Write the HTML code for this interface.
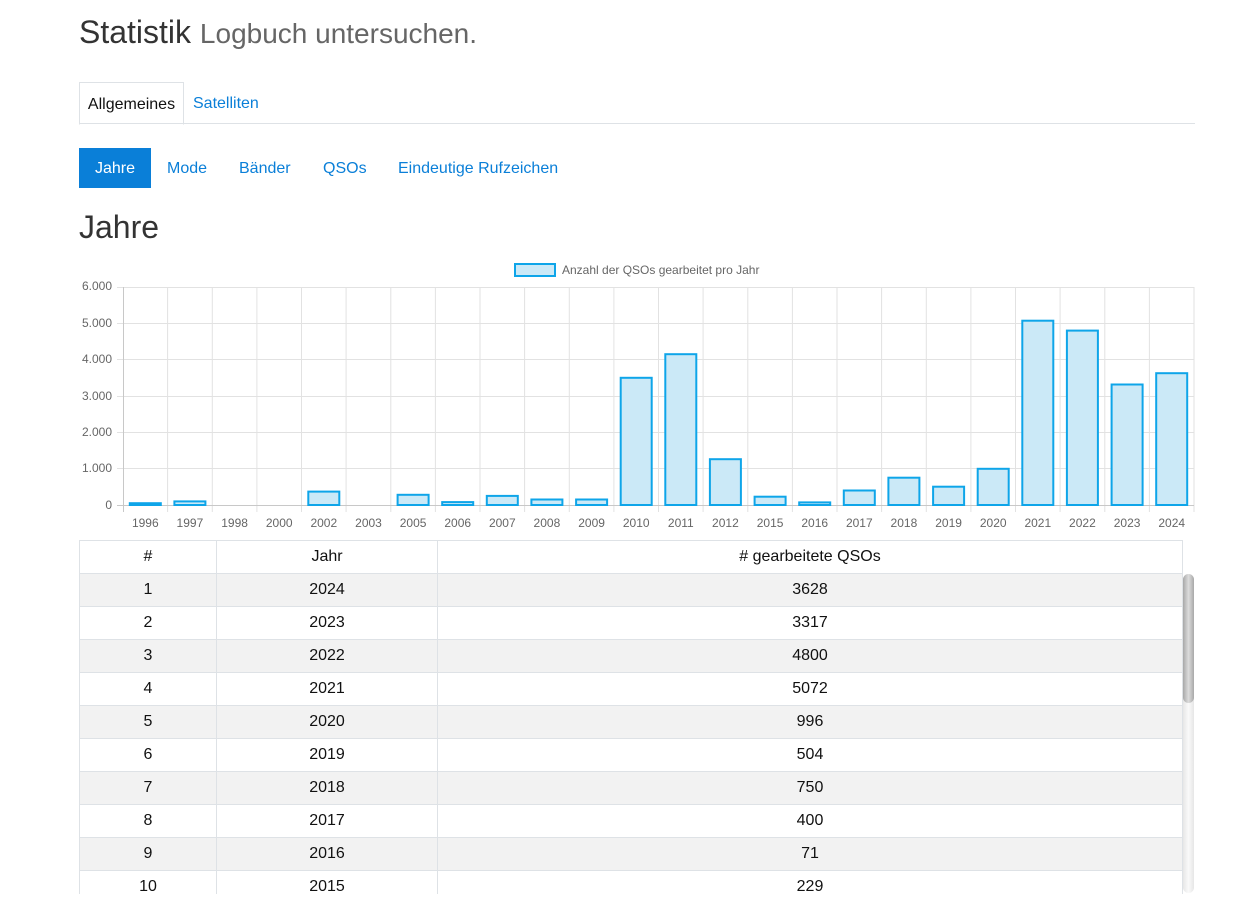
<!DOCTYPE html>
<html><head><meta charset="utf-8"><style>
body{margin:0;background:#fff;font-family:"Liberation Sans",sans-serif;color:#333;}
.abs{position:absolute}
h1{position:absolute;left:79px;top:14px;margin:0;font-weight:400;font-size:32px;color:#333;}
h1 small{font-size:28px;color:#666;}
.tabs{position:absolute;left:79px;top:82px;width:1116px;height:41px;border-bottom:1px solid #dee2e6;}
.tab{position:absolute;top:0;height:41px;line-height:43px;font-size:16px;}
.pill{position:absolute;top:148px;height:40px;line-height:41px;font-size:16px;color:#0a7fd8}
h2{position:absolute;left:79px;top:209px;margin:0;font-weight:400;font-size:32px;color:#333}
table{position:absolute;left:79px;top:540px;width:1104px;border-collapse:collapse;font-size:16px;color:#111}
td,th{border:1px solid #dee2e6;height:32px;text-align:center;font-weight:400;padding:0}
tr.s td{background:#f2f2f2}
</style></head><body>
<h1>Statistik <small>Logbuch untersuchen.</small></h1>
<div class="tabs">
<div class="tab" style="left:0;width:103px;border:1px solid #dee2e6;border-bottom:1px solid #fff;height:41px;text-align:center;color:#111">Allgemeines</div>
<div class="tab" style="left:114px;color:#0a7fd8">Satelliten</div>
</div>
<div class="pill" style="left:79px;width:72px;background:#0a7fd8;color:#fff;text-align:center">Jahre</div>
<div class="pill" style="left:167px">Mode</div>
<div class="pill" style="left:239px">Bänder</div>
<div class="pill" style="left:323px">QSOs</div>
<div class="pill" style="left:398px">Eindeutige Rufzeichen</div>
<h2>Jahre</h2>
<svg class="abs" style="left:0;top:0" width="1258" height="540" font-family="Liberation Sans, sans-serif" font-size="12" fill="#666">
<rect x="515" y="264" width="40" height="12" fill="#cbe9f7" stroke="#0ea5e9" stroke-width="2"/>
<text x="562" y="274" font-size="12" fill="#666">Anzahl der QSOs gearbeitet pro Jahr</text>
<g stroke="#e2e2e2" stroke-width="1">
<line x1="117" x2="1194" y1="287.5" y2="287.5"/><line x1="117" x2="1194" y1="323.5" y2="323.5"/><line x1="117" x2="1194" y1="359.5" y2="359.5"/><line x1="117" x2="1194" y1="396.5" y2="396.5"/><line x1="117" x2="1194" y1="432.5" y2="432.5"/><line x1="117" x2="1194" y1="468.5" y2="468.5"/>
<line x1="167.6" x2="167.6" y1="287" y2="512"/><line x1="212.3" x2="212.3" y1="287" y2="512"/><line x1="256.9" x2="256.9" y1="287" y2="512"/><line x1="301.5" x2="301.5" y1="287" y2="512"/><line x1="346.1" x2="346.1" y1="287" y2="512"/><line x1="390.8" x2="390.8" y1="287" y2="512"/><line x1="435.4" x2="435.4" y1="287" y2="512"/><line x1="480" x2="480" y1="287" y2="512"/><line x1="524.6" x2="524.6" y1="287" y2="512"/><line x1="569.3" x2="569.3" y1="287" y2="512"/><line x1="613.9" x2="613.9" y1="287" y2="512"/><line x1="658.5" x2="658.5" y1="287" y2="512"/><line x1="703.1" x2="703.1" y1="287" y2="512"/><line x1="747.8" x2="747.8" y1="287" y2="512"/><line x1="792.4" x2="792.4" y1="287" y2="512"/><line x1="837" x2="837" y1="287" y2="512"/><line x1="881.6" x2="881.6" y1="287" y2="512"/><line x1="926.3" x2="926.3" y1="287" y2="512"/><line x1="970.9" x2="970.9" y1="287" y2="512"/><line x1="1015.5" x2="1015.5" y1="287" y2="512"/><line x1="1060.1" x2="1060.1" y1="287" y2="512"/><line x1="1104.8" x2="1104.8" y1="287" y2="512"/><line x1="1149.4" x2="1149.4" y1="287" y2="512"/><line x1="1194" x2="1194" y1="287" y2="512"/>
</g>
<g stroke="#c8c8c8"><line x1="123.5" x2="123.5" y1="287" y2="512"/><line x1="117" x2="1194" y1="505.5" y2="505.5"/></g>
<g text-anchor="end"><text x="112" y="290">6.000</text><text x="112" y="327">5.000</text><text x="112" y="363">4.000</text><text x="112" y="400">3.000</text><text x="112" y="436">2.000</text><text x="112" y="472">1.000</text><text x="112" y="509">0</text></g>
<g fill="#cbe9f7" stroke="#0ea5e9" stroke-width="2">
<rect x="129.8" y="503.2" width="31" height="1.8"/>
<rect x="174.4" y="501.4" width="31" height="3.6"/>
<rect x="308.3" y="491.6" width="31" height="13.4"/>
<rect x="397.6" y="494.8" width="31" height="10.2"/>
<rect x="442.2" y="502.1" width="31" height="2.9"/>
<rect x="486.8" y="495.9" width="31" height="9.1"/>
<rect x="531.4" y="499.5" width="31" height="5.5"/>
<rect x="576.1" y="499.5" width="31" height="5.5"/>
<rect x="620.7" y="377.8" width="31" height="127.2"/>
<rect x="665.3" y="354.2" width="31" height="150.8"/>
<rect x="709.9" y="459.2" width="31" height="45.8"/>
<rect x="754.6" y="496.7" width="31" height="8.3"/>
<rect x="799.2" y="502.4" width="31" height="2.6"/>
<rect x="843.8" y="490.5" width="31" height="14.5"/>
<rect x="888.4" y="477.7" width="31" height="27.3"/>
<rect x="933.1" y="486.7" width="31" height="18.3"/>
<rect x="977.7" y="468.8" width="31" height="36.2"/>
<rect x="1022.3" y="320.7" width="31" height="184.3"/>
<rect x="1066.9" y="330.6" width="31" height="174.4"/>
<rect x="1111.6" y="384.5" width="31" height="120.5"/>
<rect x="1156.2" y="373.2" width="31" height="131.8"/>
</g>
<g text-anchor="middle">
<text x="145.3" y="527">1996</text><text x="189.9" y="527">1997</text><text x="234.6" y="527">1998</text><text x="279.2" y="527">2000</text><text x="323.8" y="527">2002</text><text x="368.5" y="527">2003</text><text x="413.1" y="527">2005</text><text x="457.7" y="527">2006</text><text x="502.3" y="527">2007</text><text x="546.9" y="527">2008</text><text x="591.6" y="527">2009</text><text x="636.2" y="527">2010</text><text x="680.8" y="527">2011</text><text x="725.4" y="527">2012</text><text x="770.1" y="527">2015</text><text x="814.7" y="527">2016</text><text x="859.3" y="527">2017</text><text x="903.9" y="527">2018</text><text x="948.6" y="527">2019</text><text x="993.2" y="527">2020</text><text x="1037.8" y="527">2021</text><text x="1082.4" y="527">2022</text><text x="1127.1" y="527">2023</text><text x="1171.7" y="527">2024</text>
</g>
</svg>
<div class="abs" style="left:0;top:540px;width:1258px;height:354px;overflow:hidden">
<table style="top:0">
<tr><th style="width:136px">#</th><th style="width:220px">Jahr</th><th># gearbeitete QSOs</th></tr>
<tr class="s"><td>1</td><td>2024</td><td>3628</td></tr>
<tr><td>2</td><td>2023</td><td>3317</td></tr>
<tr class="s"><td>3</td><td>2022</td><td>4800</td></tr>
<tr><td>4</td><td>2021</td><td>5072</td></tr>
<tr class="s"><td>5</td><td>2020</td><td>996</td></tr>
<tr><td>6</td><td>2019</td><td>504</td></tr>
<tr class="s"><td>7</td><td>2018</td><td>750</td></tr>
<tr><td>8</td><td>2017</td><td>400</td></tr>
<tr class="s"><td>9</td><td>2016</td><td>71</td></tr>
<tr><td>10</td><td>2015</td><td>229</td></tr>
<tr class="s"><td>11</td><td>2012</td><td>1260</td></tr>
</table>
</div>
<div class="abs" style="left:1183px;top:574px;width:11px;height:319px;border-radius:6px;background:linear-gradient(90deg,#e6e6e6,#fafafa,#e6e6e6)"></div>
<div class="abs" style="left:1183px;top:574px;width:11px;height:129px;border-radius:6px;background:linear-gradient(90deg,#a8a8a8,#dcdcdc,#a8a8a8)"></div>
</body></html>
